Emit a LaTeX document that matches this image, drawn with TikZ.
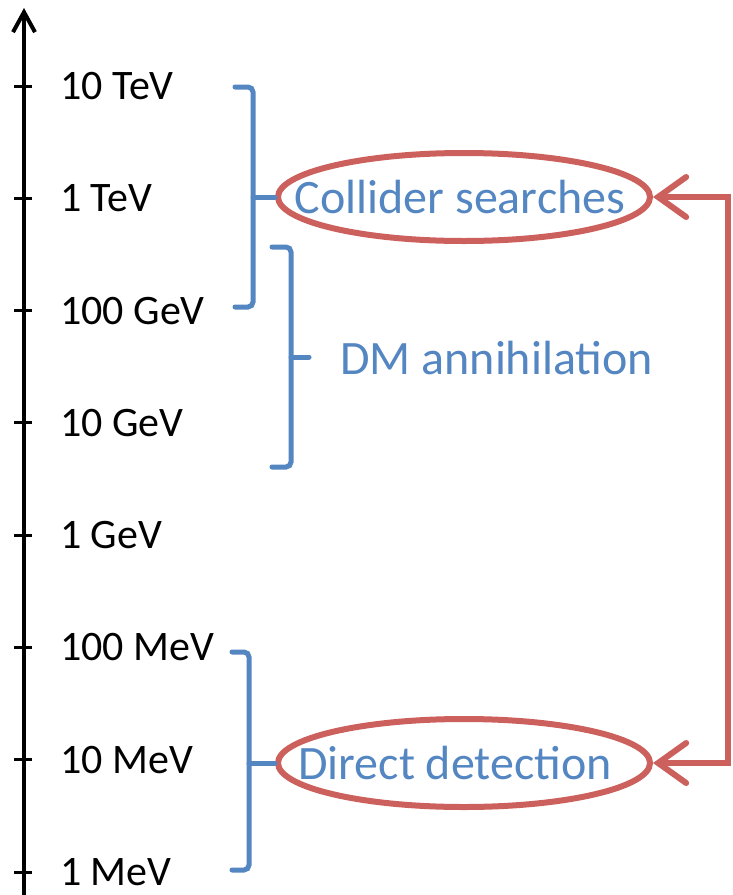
\documentclass[tikz,border=0pt]{standalone}
\usepackage{fontspec}
\setmainfont{Carlito}
\usetikzlibrary{positioning, arrows.meta, shapes.geometric}
\definecolor{braceblue}{RGB}{84,134,194}
\definecolor{linkred}{RGB}{204,96,92}

\begin{document}
\begin{tikzpicture}
  [x=1pt, y=-1pt,
   scalelabel/.style={anchor=west, inner sep=0pt, font=\fontsize{42}{48}\selectfont},
   searchtext/.style={inner sep=0pt, text=braceblue, font=\fontsize{48}{56}\selectfont},
   brace/.style={draw=braceblue, line width=5pt, rounded corners=5pt, line cap=round},
   search/.style={ellipse, draw=linkred, line width=6pt, inner sep=0pt},
   >={Straight Barb[length=28pt, width=40pt, line cap=round]}]

  \useasboundingbox (0,0) rectangle (732,895);

  % energy axis
  \coordinate (bot) at (24,895);
  \coordinate (top) at (24,8);
  \draw[line width=4pt, -{Straight Barb[length=20pt, width=22pt]}] (bot) -- (top);

  \foreach \lab [count=\i from 0] in {10 TeV, 1 TeV, 100 GeV, 10 GeV, 1 GeV, 100 MeV, 10 MeV, 1 MeV} {
    \coordinate (t\i) at (24, 86+112.3*\i);
    \draw[line width=3pt] ([xshift=-10pt]t\i) -- ([xshift=8pt]t\i);
    \node[scalelabel, right=36pt of t\i] (l\i) {\lab};
  }

  % search ranges
  \node[search, minimum width=372pt, minimum height=88pt,
        label={[searchtext, xshift=-4pt]center:Collider searches}] (coll) at (464,197) {};
  \node[search, minimum width=372pt, minimum height=88pt,
        label={[searchtext, xshift=-9pt]center:Direct detection}] (dd) at (464,763) {};
  \node[scalelabel, searchtext, anchor=west] (dm) at (340,358) {DM annihilation};

  % braces
  \coordinate (b1) at (253,0);
  \coordinate (b3) at (249,0);
  \draw[brace] (235,87) -- (253,87) -- (253,307) -- (235,307);
  \draw[brace] (coll.west -| b1) -- (coll.west);
  \draw[brace] (272,247) -- (291,247) -- (291,467) -- (272,467);
  \draw[brace] (291,357) -- (309,357);
  \draw[brace] (232,652) -- (249,652) -- (249,870) -- (232,870);
  \draw[brace] (dd.west -| b3) -- (dd.west);

  % link between the two
  \coordinate (rail) at (728,0);
  \draw[linkred, line width=6pt, <->] (coll.east) -- (coll.east -| rail) -- (dd.east -| rail) -- (dd.east);
\end{tikzpicture}
\end{document}
